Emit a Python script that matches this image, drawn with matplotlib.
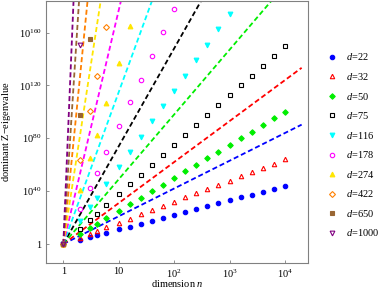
import numpy as np
import matplotlib
matplotlib.use("Agg")
import matplotlib.pyplot as plt
from matplotlib.lines import Line2D

plt.rcParams['font.family'] = ['Liberation Serif', 'DejaVu Serif']
plt.rcParams['mathtext.fontset'] = 'custom'
plt.rcParams['mathtext.rm'] = 'Liberation Serif'
plt.rcParams['mathtext.it'] = 'Liberation Serif:italic'

# dimension values n
n_vals = [1, 2, 3, 4, 6, 10, 16, 25, 40, 63, 100, 158, 251, 398, 631,
          1000, 1585, 2512, 3981, 6310, 10000]

# tensor orders
d_vals = [22, 32, 50, 75, 116, 178, 274, 422, 650, 1000]

# log10 of dominant Z-eigenvalue, per d (visible points)
logy_22 = [0, 3.3, 5.2, 6.6, 8.6, 11, 13.2, 15.4, 17.6, 19.8, 22, 24.2, 26.4,
           28.6, 30.8, 33, 35.2, 37.4, 39.6, 41.8, 44]
logy_32 = [0, 4.8, 7.6, 9.6, 12.5, 16, 19.3, 22.4, 25.6, 28.8, 32, 35.2, 38.4,
           41.6, 44.8, 48, 51.2, 54.4, 57.6, 60.8, 64]
logy_50 = [0, 7.5, 11.9, 15.1, 19.5, 25, 30.1, 35, 40, 45, 50, 55, 60, 65,
           70, 75, 80, 85, 90, 95, 100]
logy_75 = [0, 11.3, 17.9, 22.6, 29.2, 37.5, 45.2, 52.4, 60.1, 67.5, 75, 82.5,
           90, 97.5, 105, 112.5, 120, 127.5, 135, 142.5, 150]
logy_116 = [0, 17.5, 27.7, 34.9, 45.1, 58, 69.8, 81.1, 92.9, 104.3, 116,
            127.5, 139.2, 150.8, 162.4, 174]
logy_178 = [0, 26.8, 42.5, 53.6, 69.3, 89, 107.2, 124.4, 142.6, 160.1, 178]
logy_274 = [0, 41.2, 65.4, 82.5, 106.6, 137, 164.9]
logy_422 = [0, 63.5, 100.7, 127, 164.2]
logy_650 = [0, 97.8, 155.1]
logy_1000 = [0, 150.5]

# exponent of the dashed reference lines n^(d-1)
line_exp = [21, 31, 49, 74, 115, 177, 273, 421, 649, 999]
line_n = [1, 20000]

series = [logy_22, logy_32, logy_50, logy_75, logy_116, logy_178,
          logy_274, logy_422, logy_650, logy_1000]

colors = ['#0000ff', '#ff0000', '#00ee00', '#000000', '#00ffff', '#ff00ff',
          '#ffe600', '#ff8000', '#996633', '#800080']
markers = ['o', '^', 'D', 's', 'v', 'o', '^', 'D', 's', 'v']
filled = [True, False, True, False, True, False, True, False, True, False]
msizes = [3.2, 3.2, 2.8, 2.8, 3.4, 3.2, 3.4, 3.0, 3.0, 3.4]

fig = plt.figure(figsize=(3.81, 2.94), dpi=100)
ax = fig.add_axes([0.12, 0.1044, 0.689, 0.8936])
ax.set_xscale('log')
ax.set_yscale('log')

# dashed lines y = n^(d-1), evaluated in log space and capped above the axes
ln = np.logspace(np.log10(line_n[0]), np.log10(line_n[1]), 400)
for c, e in zip(colors, line_exp):
    ly = np.minimum(e * np.log10(ln), 250.0)
    ax.plot(ln, 10.0 ** ly, ls=(0, (2.8, 1.6)), lw=1.3, color=c, zorder=2)

handles = []
for d, ly, c, m, f, ms in zip(d_vals, series, colors, markers, filled, msizes):
    x = np.array(n_vals[:len(ly)], dtype=float)
    y = 10.0 ** np.array(ly)
    fc = c if f else 'none'
    ax.plot(x, y, ls='none', marker=m, ms=ms, mfc=fc, mec=c, mew=0.8, zorder=3)
    handles.append(Line2D([], [], ls='none', marker=m, ms=ms, mfc=fc, mec=c,
                          mew=0.8, label=r'$d$=' + str(d)))

ax.set_xlim(10 ** -0.318, 10 ** 4.42)
ax.set_ylim(10 ** -14.6, 10 ** 184.2)

xt = [1, 10, 100, 1000, 10000]
xtl = ['1', '10', r'$10^{2}$', r'$10^{3}$', r'$10^{4}$']
yt = [1, 1e40, 1e80, 1e120, 1e160]
ytl = ['1', r'$10^{40}$', r'$10^{80}$', r'$10^{120}$', r'$10^{160}$']
ax.set_xticks(xt)
ax.set_xticklabels(xtl)
ax.set_yticks(yt)
ax.set_yticklabels(ytl)
ax.minorticks_off()
ax.tick_params(direction='in', length=2.5, width=0.6, color='#808080',
               labelsize=7.5, pad=3)
for s in ax.spines.values():
    s.set_color('#808080')
    s.set_linewidth(0.8)

ax.set_xlabel(r'dimension $n$', fontsize=7.5, labelpad=-1)
ax.set_ylabel(r'dominant Z$-$eigenvalue', fontsize=7.5, labelpad=4)

leg = fig.legend(handles=handles, loc='upper left',
                 bbox_to_anchor=(0.857, 0.825), frameon=False, fontsize=7.5,
                 handlelength=1.0, handletextpad=0.9, labelspacing=0.82,
                 borderaxespad=0, borderpad=0)

fig.savefig('out.png', dpi=100)
